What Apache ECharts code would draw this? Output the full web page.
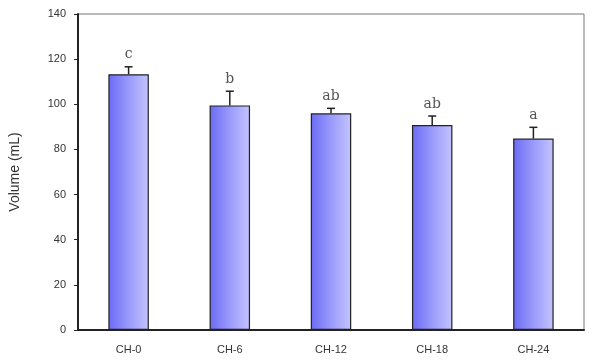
<!DOCTYPE html>
<html>
<head>
<meta charset="utf-8">
<script src="https://cdn.jsdelivr.net/npm/echarts@6/dist/echarts.min.js"></script>
<style>
  html, body { margin: 0; padding: 0; background: #fff; }
  #chart { width: 593px; height: 363px; }
</style>
</head>
<body>
<div id="chart"></div>
<script>
  // data
  var categories = ['CH-0', 'CH-6', 'CH-12', 'CH-18', 'CH-24'];
  var volumes = [113.3, 99.5, 96.0, 90.8, 84.8];
  var errors = [3.3, 6.3, 2.2, 4.0, 5.0];
  var letters = ['c', 'b', 'ab', 'ab', 'a'];
  var yTicks = [0, 20, 40, 60, 80, 100, 120, 140];

  var chart = echarts.init(document.getElementById('chart'));

  var barFill = new echarts.graphic.LinearGradient(0, 0, 1, 0, [
    { offset: 0, color: '#6b6bf6' },
    { offset: 0.5, color: '#9a9afb' },
    { offset: 1, color: '#c4c4ff' }
  ]);

  var errData = volumes.map(function (v, i) {
    return [i, v, v + errors[i]];
  });

  chart.setOption({
    animation: false,
    backgroundColor: '#fff',
    textStyle: { fontFamily: 'Liberation Sans, Arial, sans-serif' },
    grid: { left: 78, right: 9, top: 14, bottom: 33, show: true, borderColor: '#777', borderWidth: 1 },
    xAxis: {
      type: 'category',
      data: categories,
      axisLine: { lineStyle: { color: '#222', width: 2 } },
      axisTick: { inside: true, length: 5, lineStyle: { color: '#222' } },
      axisLabel: { color: '#333', fontSize: 11, margin: 14 }
    },
    yAxis: {
      type: 'value',
      min: yTicks[0],
      max: yTicks[yTicks.length - 1],
      interval: 20,
      name: 'Volume (mL)',
      nameLocation: 'middle',
      nameGap: 56,
      nameTextStyle: { color: '#333', fontSize: 14 },
      axisLine: { show: true, lineStyle: { color: '#222', width: 2 } },
      axisTick: { show: true, length: 4, lineStyle: { color: '#222' } },
      axisLabel: { color: '#333', fontSize: 11, margin: 12 },
      splitLine: { show: false }
    },
    series: [{
      type: 'bar',
      data: volumes,
      barWidth: '40%',
      itemStyle: { color: barFill, borderColor: '#222', borderWidth: 1.2 }
    }, {
      type: 'custom',
      data: errData,
      z: 5,
      renderItem: function (params, api) {
        var base = api.coord([api.value(0), api.value(1)]);
        var top = api.coord([api.value(0), api.value(2)]);
        var cap = 4;
        return {
          type: 'group',
          children: [{
            type: 'line',
            shape: { x1: base[0], y1: base[1], x2: top[0], y2: top[1] },
            style: { stroke: '#222', lineWidth: 1.5 }
          }, {
            type: 'line',
            shape: { x1: top[0] - cap, y1: top[1], x2: top[0] + cap, y2: top[1] },
            style: { stroke: '#222', lineWidth: 1.5 }
          }, {
            type: 'text',
            x: top[0],
            y: top[1] - 5,
            style: {
              text: letters[params.dataIndex],
              align: 'center',
              verticalAlign: 'bottom',
              font: '14px "DejaVu Serif", "Liberation Serif", serif',
              fill: '#555'
            }
          }]
        };
      }
    }]
  });
</script>
</body>
</html>
